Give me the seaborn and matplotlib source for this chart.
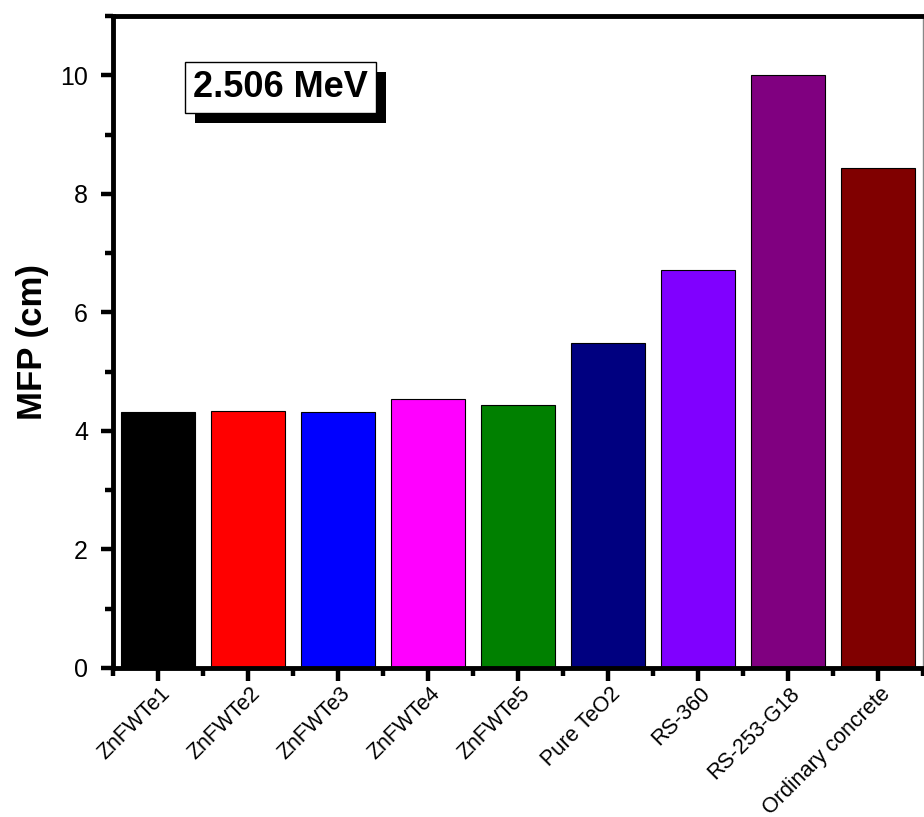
import numpy as np
import pandas as pd
import matplotlib
matplotlib.use("Agg")
import matplotlib.pyplot as plt
import matplotlib.patheffects as pe
import matplotlib.transforms as mtransforms
from matplotlib.ticker import MultipleLocator, FixedLocator
import seaborn as sns

# data
samples = ["ZnFWTe1", "ZnFWTe2", "ZnFWTe3", "ZnFWTe4", "ZnFWTe5",
           "Pure TeO2", "RS-360", "RS-253-G18", "Ordinary concrete"]
mfp_cm = [4.32, 4.34, 4.32, 4.53, 4.43, 5.49, 6.72, 10.0, 8.44]
bar_colors = ["#000000", "#FF0000", "#0000FF", "#FF00FF", "#008000",
              "#000080", "#8000FF", "#800080", "#800000"]
energy_label = "2.506 MeV"

df = pd.DataFrame({"sample": samples, "mfp": mfp_cm})

sns.set_style("ticks")
plt.rcParams["font.family"] = ["Liberation Sans", "DejaVu Sans"]
plt.rcParams["text.color"] = "black"
plt.rcParams["axes.labelcolor"] = "black"
plt.rcParams["xtick.color"] = "black"
plt.rcParams["ytick.color"] = "black"

fig = plt.figure(figsize=(9.24, 8.17), dpi=100)
ax = fig.add_axes([0.1223, 0.1824, 0.8766, 0.798])

sns.barplot(data=df, x="sample", y="mfp", hue="sample", palette=bar_colors,
            order=samples, hue_order=samples, width=0.82, legend=False,
            edgecolor="black", linewidth=0.8, saturation=1, ax=ax)

ax.set_xlim(-0.5, len(samples) - 0.5)
ax.set_ylim(0, 11)

# spines
for side in ["left", "bottom", "top"]:
    ax.spines[side].set_linewidth(3.5)
    ax.spines[side].set_color("black")
ax.spines["right"].set_linewidth(1.0)
ax.spines["right"].set_color("#888888")

# ticks
ax.yaxis.set_major_locator(MultipleLocator(2))
ax.yaxis.set_minor_locator(MultipleLocator(1))
ax.xaxis.set_minor_locator(FixedLocator(np.arange(-0.5, len(samples), 1.0)))
ax.tick_params(axis="both", which="major", direction="out", length=9, width=3.2)
ax.tick_params(axis="both", which="minor", direction="out", length=5.5, width=3.2)
ax.tick_params(axis="y", which="both", labelsize=18, pad=9, right=False,
               labelcolor="black")
ax.tick_params(axis="x", which="both", labelsize=15.5, pad=8, top=False,
               labelcolor="black")
shift = mtransforms.ScaledTranslation(9 / 100, 1 / 100, fig.dpi_scale_trans)
for lbl in ax.get_xticklabels():
    lbl.set_rotation(45)
    lbl.set_ha("right")
    lbl.set_va("center")
    lbl.set_rotation_mode("anchor")
    lbl.set_transform(lbl.get_transform() + shift)

ax.set_xlabel("")
ax.set_ylabel("MFP (cm)", fontsize=25, fontweight="bold", labelpad=8,
              color="black")

# energy label with drop shadow
t = ax.text(1.36, 9.8, energy_label, fontsize=26, fontweight="bold",
            ha="center", va="center", color="black",
            bbox=dict(boxstyle="square,pad=0.22", facecolor="white",
                      edgecolor="black", linewidth=1.0))
t.get_bbox_patch().set_path_effects([
    pe.withSimplePatchShadow(offset=(7.5, -7.5), shadow_rgbFace="black", alpha=1.0)
])

fig.savefig("out.png", dpi=100)
